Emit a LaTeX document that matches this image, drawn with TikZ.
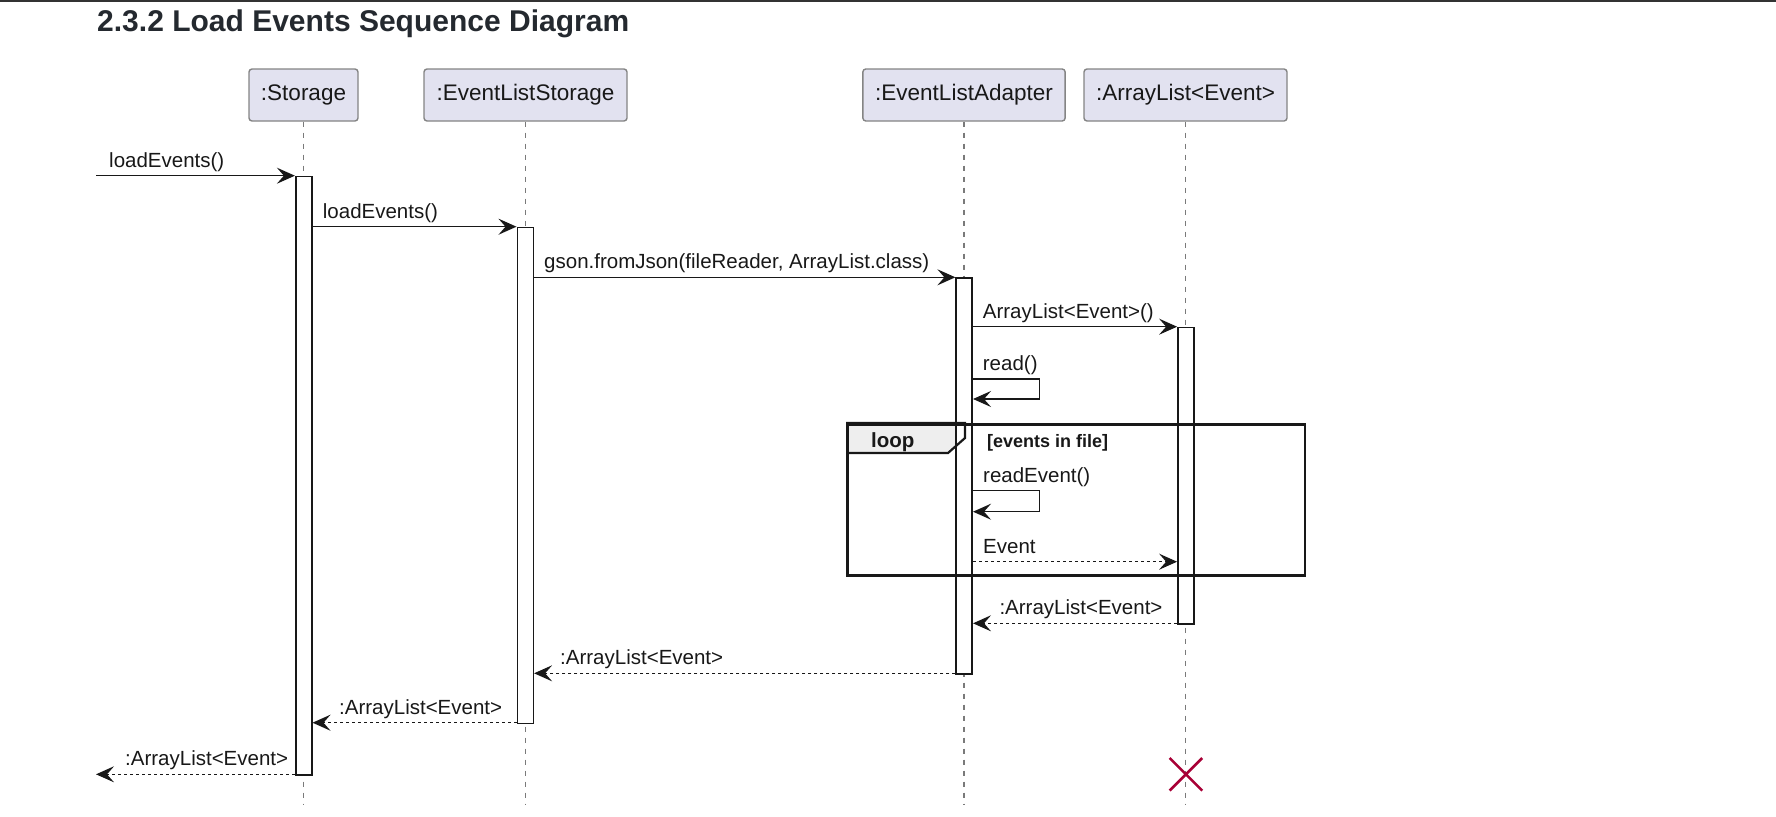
\documentclass[tikz,border=0pt]{standalone}
\usepackage{fontspec}
\setmainfont{Liberation Sans}
\usetikzlibrary{arrows.meta,shapes.misc}

\definecolor{ink}{HTML}{181818}
\definecolor{partfill}{HTML}{E2E2F0}
\definecolor{partborder}{HTML}{848484}
\definecolor{lifegray}{HTML}{7A7A7A}
\definecolor{tabfill}{HTML}{EEEEEE}
\definecolor{crimson}{HTML}{A80036}
\definecolor{headink}{HTML}{24292F}

\newcommand{\partfont}{\fontsize{22.5}{26}\selectfont}
\newcommand{\msgfont}{\fontsize{20.5}{24}\selectfont}

\tikzset{
  participant/.style={draw=partborder, fill=partfill, line width=1.4pt,
    rounded corners=3pt, minimum width=#1, minimum height=52pt,
    inner sep=0pt, font=\partfont, text=ink},
  lifeline/.style={draw=lifegray, line width=1.3pt, dash pattern=on 5.5pt off 5.5pt},
  actbar/.style={draw=ink, fill=white, line width=1.6pt, minimum width=16pt,
    minimum height=#1, inner sep=0pt, anchor=north},
  msg/.style={draw=ink, line width=1.4pt, -{Stealth[length=18pt,width=16pt,inset=7pt]}},
  ret/.style={msg, dash pattern=on 3pt off 3pt},
  lbl/.style={anchor=base west, inner sep=0pt, font=\msgfont, text=ink},
  loopbox/.style={draw=ink, line width=2.6pt, inner sep=0pt, anchor=north west},
  looptab/.style={draw=ink, line width=2.2pt},
  destroy/.style={cross out, draw=crimson, line width=2.6pt, minimum size=30pt, inner sep=0pt},
}

\begin{document}
\begin{tikzpicture}[x=1pt,y=-1pt]
  \useasboundingbox (0,0) rectangle (1776,816);
  \fill[black!80] (0,0) rectangle (1776,2);

  % heading
  \node[anchor=base west, inner sep=0pt, text=headink] (title) at (97,31)
    {\resizebox{532pt}{!}{\bfseries\fontsize{28}{32}\selectfont 2.3.2 Load Events Sequence Diagram}};

  % participants
  \node[participant=109pt]   (pS) at (303.5,95) {:Storage};
  \node[participant=203pt]   (pE) at (525.5,95) {:EventListStorage};
  \node[participant=202.3pt] (pA) at (964,95)   {:EventListAdapter};
  \node[participant=203pt]   (pL) at (1185.5,95) {:ArrayList<Event>};

  % lifeline ends
  \coordinate (eS) at (303.5,804);
  \coordinate (eE) at (525.5,804);
  \coordinate (eA) at (964,804);
  \coordinate (eL) at (1185.5,804);
  \draw[lifeline] (pS.south) -- (eS);
  \draw[lifeline] (pE.south) -- (eE);
  \draw[lifeline] (pA.south) -- (eA);
  \draw[lifeline] (pL.south) -- (eL);

  % loop tab background
  \coordinate (loopNW) at (846,423);
  \fill[tabfill] (loopNW) -- ++(119,0) -- ++(0,15) -- ++(-17,15) -- ++(-102,0) -- cycle;

  % activation bars
  \node[actbar=598.6pt] (bS) at (303.7,175.7) {};
  \node[actbar=496pt]   (bE) at (525.3,226.7) {};
  \node[actbar=396pt]   (bA) at (964.2,277.3) {};
  \node[actbar=296.6pt] (bL) at (1185.9,326.7) {};

  % incoming call
  \coordinate (src) at (96,175.7);
  \draw[msg] (src) -- (src -| bS.west);
  \node[lbl] (t1) at (109,167.2) {loadEvents()};

  \coordinate (y2) at (0,226.7);
  \draw[msg] (bS.east |- y2) -- (bE.west |- y2);
  \node[lbl] (t2) at (322.7,218.2) {loadEvents()};

  \coordinate (y3) at (0,277.3);
  \draw[msg] (bE.east |- y3) -- (bA.west |- y3);
  \node[lbl] (t3) at (544,268.8) {gson.fromJson(fileReader, ArrayList.class)};

  \coordinate (y4) at (0,326.7);
  \draw[msg] (bA.east |- y4) -- (bL.west |- y4);
  \node[lbl] (t4) at (982.7,318.2) {ArrayList<Event>()};

  % read() self call
  \coordinate (r1) at (1039.5,379);
  \coordinate (r2) at (1039.5,399);
  \draw[msg] (bA.east |- r1) -- (r1) -- (r2) -- (bA.east |- r2);
  \node[lbl] (t5) at (982.7,370) {read()};

  % loop fragment
  \node[loopbox, minimum width=457.5pt, minimum height=151pt] (loopF) at (loopNW) {};
  \draw[looptab] (loopF.north west) -- ++(119,0) -- ++(0,15) -- ++(-17,15) -- ++(-102,0);
  \node[lbl, font=\bfseries\fontsize{20.5}{24}\selectfont] (tl) at (871,447) {loop};
  \node[lbl, font=\bfseries\fontsize{18}{22}\selectfont] (tg) at (987,447) {[events in file]};

  \coordinate (r3) at (1039.5,490.7);
  \coordinate (r4) at (1039.5,511.7);
  \draw[msg] (bA.east |- r3) -- (r3) -- (r4) -- (bA.east |- r4);
  \node[lbl] (t6) at (983,482) {readEvent()};

  \coordinate (y7) at (0,561.7);
  \draw[ret] (bA.east |- y7) -- (bL.west |- y7);
  \node[lbl] (t7) at (983,553.2) {Event};

  % returns
  \coordinate (y8) at (0,623.3);
  \draw[ret] (bL.west |- y8) -- (bA.east |- y8);
  \node[lbl] (t8) at (999.3,614.8) {:ArrayList<Event>};

  \coordinate (y9) at (0,673.3);
  \draw[ret] (bA.west |- y9) -- (bE.east |- y9);
  \node[lbl] (t9) at (560,664.8) {:ArrayList<Event>};

  \coordinate (y10) at (0,722.7);
  \draw[ret] (bE.west |- y10) -- (bS.east |- y10);
  \node[lbl] (t10) at (339,714.2) {:ArrayList<Event>};

  \coordinate (dst) at (96,774.3);
  \draw[ret] (dst -| bS.west) -- (dst);
  \node[lbl] (t11) at (125,765.8) {:ArrayList<Event>};

  % destruction of the list
  \node[destroy] (xL) at (1185.9,774.3) {};
\end{tikzpicture}
\end{document}
